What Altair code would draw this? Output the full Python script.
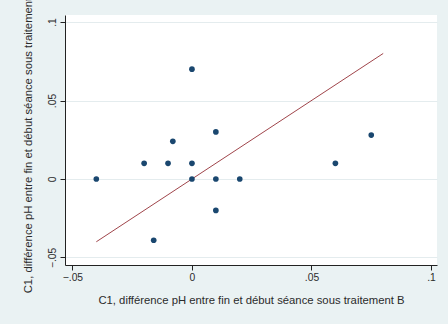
import altair as alt
import pandas as pd

# Scatter values (treatment B on x, treatment A on y)
diff_b = [-0.04, -0.02, -0.016, -0.01, -0.008, 0.0, 0.0, 0.0, 0.01, 0.01, 0.01, 0.02, 0.06, 0.075]
diff_a = [0.0, 0.01, -0.039, 0.01, 0.024, 0.07, 0.01, 0.0, 0.03, 0.0, -0.02, 0.0, 0.01, 0.028]

# Reference line y = x
line_x = [-0.04, 0.08]
line_y = [-0.04, 0.08]

tick_values = [-0.05, 0.0, 0.05, 0.1]

x_title = "C1, différence pH entre fin et début séance sous traitement B"
y_title = "C1, différence pH entre fin et début séance sous traitement A"

pts = pd.DataFrame({"x": diff_b, "y": diff_a})
ln = pd.DataFrame({"x": line_x, "y": line_y})

FONT = "Liberation Sans"
TXT = "#2b2b2b"
FS = 11.3
LFS = 10.3
label_expr = "datum.value == 0 ? '0' : replace(format(datum.value, '.2~f'), '0.', '.')"

xscale = alt.Scale(domain=[-0.0531, 0.1025], nice=False, zero=False)
yscale = alt.Scale(domain=[-0.0548, 0.1045], nice=False, zero=False)

xaxis = alt.Axis(
    values=tick_values, labelExpr=label_expr, title=x_title, grid=False,
    domainColor="#222222", tickColor="#222222", tickSize=5, labelPadding=2,
    labelFont=FONT, labelFontSize=LFS, labelColor=TXT,
    titleFont=FONT, titleFontSize=FS, titleFontWeight="normal", titleColor=TXT,
    titlePadding=12,
)
yaxis = alt.Axis(
    values=tick_values, labelExpr=label_expr, title=y_title, grid=True,
    gridColor="#e4ecee", gridWidth=1,
    domainColor="#222222", tickColor="#222222", tickSize=5, labelPadding=3,
    labelAngle=270, labelAlign="center", labelBaseline="bottom",
    labelFont=FONT, labelFontSize=LFS, labelColor=TXT,
    titleFont=FONT, titleFontSize=FS, titleFontWeight="normal", titleColor=TXT,
    titlePadding=14,
)

points = alt.Chart(pts).mark_point(filled=True, size=32, color="#1a476f", opacity=1).encode(
    x=alt.X("x:Q", scale=xscale, axis=xaxis),
    y=alt.Y("y:Q", scale=yscale, axis=yaxis),
)

fit = alt.Chart(ln).mark_line(color="#a0454b", strokeWidth=1).encode(
    x=alt.X("x:Q", scale=xscale),
    y=alt.Y("y:Q", scale=yscale),
)

chart = alt.layer(fit, points).properties(
    width=372, height=250,
    autosize=alt.AutoSizeParams(type="none"),
    padding={"left": 65, "top": 15, "right": 11, "bottom": 59},
    background="#eaf2f3",
).configure_view(fill="white", stroke=None)

chart.save("out.html", embed_options={"renderer": "svg", "actions": False})
